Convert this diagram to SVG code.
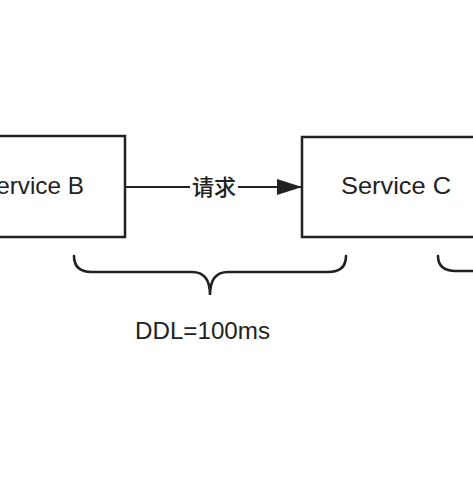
<svg xmlns="http://www.w3.org/2000/svg" width="473" height="477" viewBox="0 0 473 477">
<style>
.box{fill:#fff;stroke:#222;stroke-width:2.5}
.lbl{font-family:"Liberation Sans","Noto Sans CJK SC",Arial,sans-serif;font-size:24px;fill:#222}
.cjk{font-family:"Noto Sans CJK SC",sans-serif;font-size:22px;fill:#222;font-weight:500}
.conn{stroke:#222;stroke-width:2.2;fill:none}
.brace{stroke:#222;stroke-width:2.6;fill:none;stroke-linecap:round}
</style>
<defs>
<marker id="ah" markerWidth="26" markerHeight="16" refX="25" refY="8" orient="auto" markerUnits="userSpaceOnUse">
<path d="M0,0 L25,8 L0,16 Z" fill="#222"/>
</marker>
</defs>
<rect width="473" height="477" fill="#fff"/>
<g id="serviceB">
<rect class="box" x="-62" y="136" width="187" height="101"/>
<text class="lbl" x="84" y="194" text-anchor="end" textLength="104" lengthAdjust="spacingAndGlyphs">Service B</text>
</g>
<g id="serviceC">
<rect class="box" x="302" y="137" width="187" height="100"/>
<text class="lbl" x="341" y="194" textLength="110" lengthAdjust="spacingAndGlyphs">Service C</text>
</g>
<g id="connectors">
<line class="conn" x1="125" y1="187" x2="190" y2="187"/>
<line class="conn" x1="238" y1="187" x2="302" y2="187" marker-end="url(#ah)"/>
<text class="cjk" x="214" y="195" text-anchor="middle">请求</text>
</g>
<g id="braceB">
<path class="brace" d="M74,256 Q74,272 92,272 L192,272 Q210,272 210,295 Q210,272 228,272 L328,272 Q346,272 346,256"/>
<text class="lbl" x="202.5" y="339" text-anchor="middle" textLength="135" lengthAdjust="spacingAndGlyphs">DDL=100ms</text>
</g>
<g id="braceC">
<path class="brace" d="M438,256 Q438,271 456,271 L480,271"/>
</g>
</svg>
